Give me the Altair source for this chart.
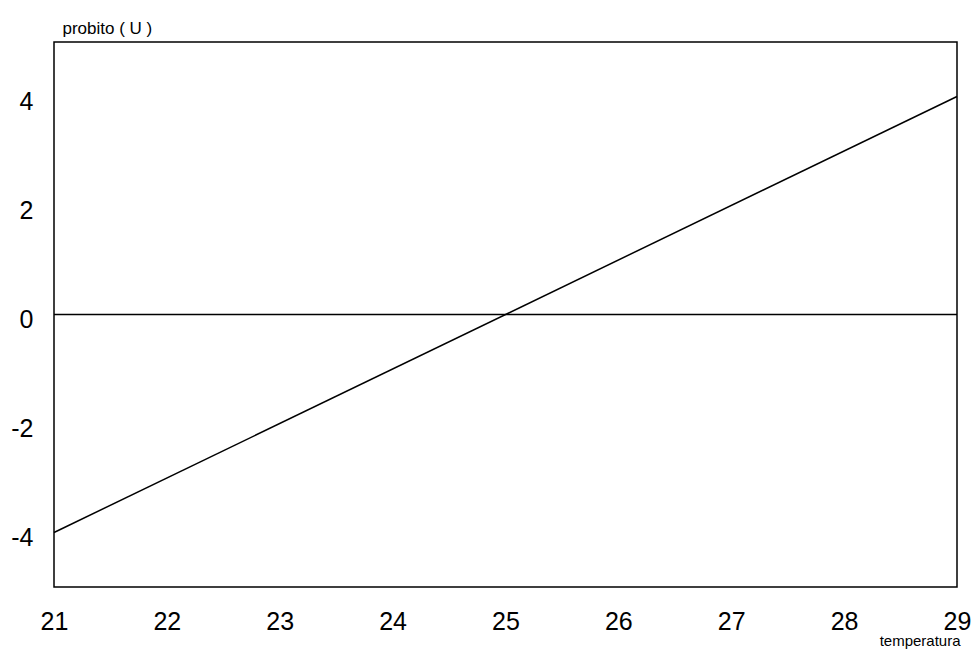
import altair as alt
import pandas as pd

temperatura = [21, 29]
probito = [-4, 4]
zero_x = [21, 29]
zero_y = [0, 0]

x_ticks = [21, 22, 23, 24, 25, 26, 27, 28, 29]
y_ticks = [-4, -2, 0, 2, 4]

df_line = pd.DataFrame({"t": temperatura, "u": probito})
df_zero = pd.DataFrame({"t": zero_x, "u": zero_y})

FONT = "Liberation Sans"
W = 903

x_enc = alt.X(
    "t:Q",
    scale=alt.Scale(domain=[21, 29], nice=False, zero=False),
    axis=alt.Axis(
        values=x_ticks, title="temperatura", grid=False, domain=False, ticks=False,
        labelExpr="'' + datum.value",
        labelFont=FONT, labelFontSize=25, labelColor="black", labelPadding=22,
        titleFont=FONT, titleFontSize=15, titleFontWeight="normal", titleColor="black",
        titleAlign="right", titleAnchor="end", titleX=W + 3, titleY=58,
        titleBaseline="alphabetic", labelFlush=False,
    ),
)
y_enc = alt.Y(
    "u:Q",
    scale=alt.Scale(domain=[-5, 5], nice=False, zero=False),
    axis=alt.Axis(
        values=y_ticks, title="probito ( U )", grid=False, domain=False, ticks=False,
        labelExpr="'' + datum.value",
        labelFont=FONT, labelFontSize=25, labelColor="black", labelPadding=21,
        labelOffset=5, labelBaseline="middle",
        titleFont=FONT, titleFontSize=17, titleFontWeight="normal", titleColor="black",
        titleAngle=0, titleAlign="left", titleX=8, titleY=-9,
        titleBaseline="alphabetic",
    ),
)

line = alt.Chart(df_line).mark_line(color="black", strokeWidth=1.5).encode(x=x_enc, y=y_enc)
zero = alt.Chart(df_zero).mark_line(color="black", strokeWidth=1.5).encode(x="t:Q", y="u:Q")

chart = (
    alt.layer(line, zero)
    .properties(
        width=W,
        height=545,
        autosize=alt.AutoSizeParams(type="none"),
        padding={"left": 46, "top": 34, "right": 14, "bottom": 62},
        background="white",
    )
    .configure_view(stroke="black", strokeWidth=1.5)
)

chart.save("out.html", embed_options={"renderer": "svg", "actions": False})
